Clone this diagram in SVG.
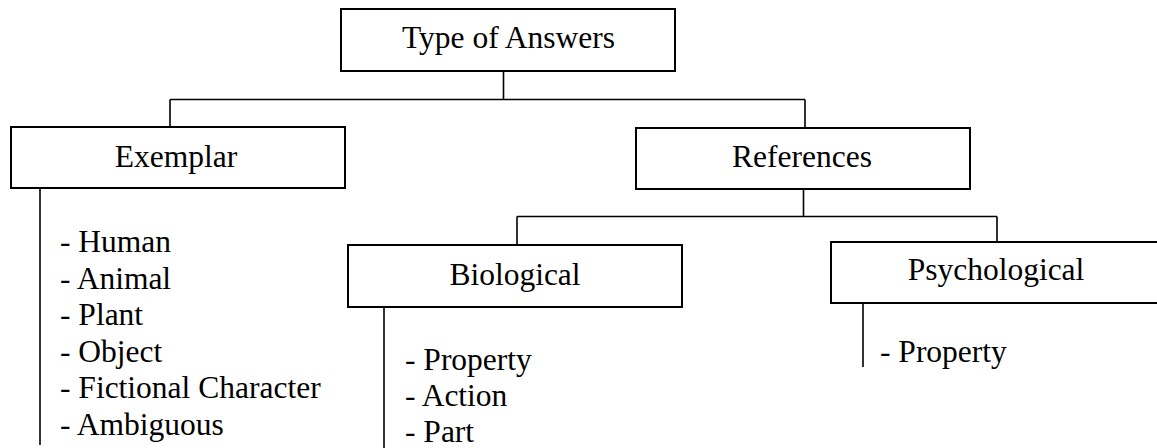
<svg xmlns="http://www.w3.org/2000/svg" width="1157" height="448" viewBox="0 0 1157 448" style="background:#ffffff">
  <defs>
    <style>
      .box { fill: #ffffff; stroke: #000000; stroke-width: 2px; }
      .link { fill: none; stroke: #000000; stroke-width: 1.6px; }
      .lbl { font-family: 'Times New Roman', 'Liberation Serif', Tinos, serif; font-size: 31.5px; fill: #000000; }
      .mid { text-anchor: middle; }
    </style>
  </defs>

  <!-- tree connectors -->
  <g id="connectors">
    <path class="link" d="M503.5 71 V99.5 M170 99.5 H805 M170 99.5 V127 M805 99.5 V128"/>
    <path class="link" d="M40 188 V445"/>
    <path class="link" d="M803.5 189 V216.5 M517 216.5 H997 M517 216.5 V245 M997 216.5 V242"/>
    <path class="link" d="M384 307 V448"/>
    <path class="link" d="M863 303 V367"/>
  </g>

  <g id="type-of-answers">
    <rect class="box" x="341" y="9" width="334" height="62"/>
    <text class="lbl mid" x="508.5" y="48">Type of Answers</text>
  </g>

  <g id="exemplar">
    <rect class="box" x="11" y="127" width="334" height="61"/>
    <text class="lbl mid" x="176" y="167">Exemplar</text>
    <text class="lbl" x="60" y="252">- Human</text>
    <text class="lbl" x="60" y="288.5">- Animal</text>
    <text class="lbl" x="60" y="325">- Plant</text>
    <text class="lbl" x="60" y="361.5">- Object</text>
    <text class="lbl" x="60" y="398">- Fictional Character</text>
    <text class="lbl" x="60" y="434.5">- Ambiguous</text>
  </g>

  <g id="references">
    <rect class="box" x="636" y="128" width="334" height="61"/>
    <text class="lbl mid" x="802" y="167">References</text>
  </g>

  <g id="biological">
    <rect class="box" x="348" y="245" width="334" height="62"/>
    <text class="lbl mid" x="515" y="285">Biological</text>
    <text class="lbl" x="405" y="370">- Property</text>
    <text class="lbl" x="405" y="406">- Action</text>
    <text class="lbl" x="405" y="442">- Part</text>
  </g>

  <g id="psychological">
    <rect class="box" x="831" y="242" width="340" height="61"/>
    <text class="lbl mid" x="996" y="280">Psychological</text>
    <text class="lbl" x="880" y="362">- Property</text>
  </g>
</svg>
